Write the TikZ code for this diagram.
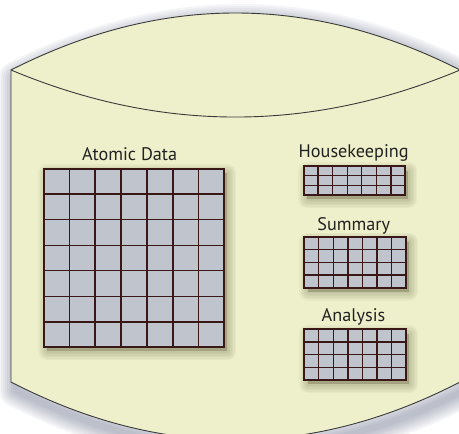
\documentclass[tikz,border=0pt]{standalone}
\usepackage{fontspec}
\setmainfont{PT Sans}
\usetikzlibrary{calc}
\definecolor{cylfill}{HTML}{EEEFCB}
\definecolor{cylline}{HTML}{3A3A3A}
\definecolor{cellfill}{HTML}{C0C4CC}
\definecolor{gridline}{HTML}{3A1818}
\definecolor{cylshadow}{HTML}{5A6480}
\definecolor{gridshadow}{HTML}{6E6E48}
\definecolor{labeltext}{HTML}{222222}
\tikzset{
  gridbox/.style={draw=gridline, fill=cellfill, line width=1.4pt, inner sep=0pt, anchor=north west},
  gridrule/.style={draw=gridline, line width=1.3pt},
  boxlabel/.style={text=labeltext, font=\fontsize{18.2}{20}\selectfont, inner sep=0pt, anchor=base},
  cylbody/.style={fill=cylfill, draw=cylline, line width=0.9pt},
  cylcurve/.style={draw=cylline, line width=0.9pt},
  softshade/.style={draw=#1, opacity=0.06, line join=round}
}
\newcommand{\gridrules}[3]{% node, cols, rows
  \pgfmathtruncatemacro{\cm}{#2-1}
  \pgfmathtruncatemacro{\rm}{#3-1}
  \foreach \i in {1,...,\cm}
    \draw[gridrule] ($(#1.north west)!\i/#2!(#1.north east)$) -- ($(#1.south west)!\i/#2!(#1.south east)$);
  \foreach \j in {1,...,\rm}
    \draw[gridrule] ($(#1.north west)!\j/#3!(#1.south west)$) -- ($(#1.north east)!\j/#3!(#1.south east)$);
  \draw[draw=gridline, line width=1.4pt] (#1.north west) rectangle (#1.south east);
}
\newcommand{\gridshade}[4]{% x, y, w, h
  \foreach \w in {18,15,12,9,6,3}
    \draw[softshade=gridshadow, line width=\w pt] ({#1+4},{#2+5}) rectangle ++(#3,#4);
  \fill[gridshadow, opacity=0.4] ({#1+4},{#2+5}) rectangle ++(#3,#4);
}
\begin{document}
\begin{tikzpicture}[x=1pt,y=-1pt]
\useasboundingbox (0,0) rectangle (459,434);
\clip (0,0) rectangle (459,434);
\fill[white] (0,0) rectangle (459,434);
% cylinder shadow
\foreach \w in {34,30,26,22,18,14,10,6}
  \draw[softshade=cylshadow, line width=\w pt]
  (16,78) .. controls (165.7,2) and (315.3,2) .. (465,78) -- (465,390)
  .. controls (315.3,467.3) and (165.7,467.3) .. (16,390) -- cycle;
% cylinder
\coordinate (tl) at (11,70);
\coordinate (tr) at (460,70);
\coordinate (bl) at (11,382);
\coordinate (br) at (460,382);
\path[cylbody]
  (tl) .. controls (160.7,-6) and (310.3,-6) .. (tr) -- (br)
  .. controls (310.3,459.3) and (160.7,459.3) .. (bl) -- cycle;
\draw[cylcurve] (tl) .. controls (160.7,132.7) and (310.3,132.7) .. (tr);
% grid shadows
\gridshade{43.3}{168.3}{180}{178}
\gridshade{303.3}{166}{101}{28}
\gridshade{304}{236.5}{101}{50}
\gridshade{304}{329}{101}{50}
% grids
\node[gridbox, minimum width=180pt, minimum height=178pt] (atomic) at (43.3,168.3) {};
\gridrules{atomic}{7}{7}
\node[gridbox, minimum width=101pt, minimum height=28pt] (house) at (303.3,166) {};
\gridrules{house}{7}{3}
\node[gridbox, minimum width=101pt, minimum height=50pt] (summary) at (304,236.5) {};
\gridrules{summary}{7}{4}
\node[gridbox, minimum width=101pt, minimum height=50pt] (analysis) at (304,329) {};
\gridrules{analysis}{7}{4}
% labels
\node[boxlabel] (atomiclabel) at (129.7,160) {Atomic Data};
\node[boxlabel] (houselabel) at (353.7,157.3) {Housekeeping};
\node[boxlabel] (summarylabel) at (353.8,230.7) {Summary};
\node[boxlabel] (analysislabel) at (353.5,321.7) {Analysis};
\end{tikzpicture}
\end{document}
